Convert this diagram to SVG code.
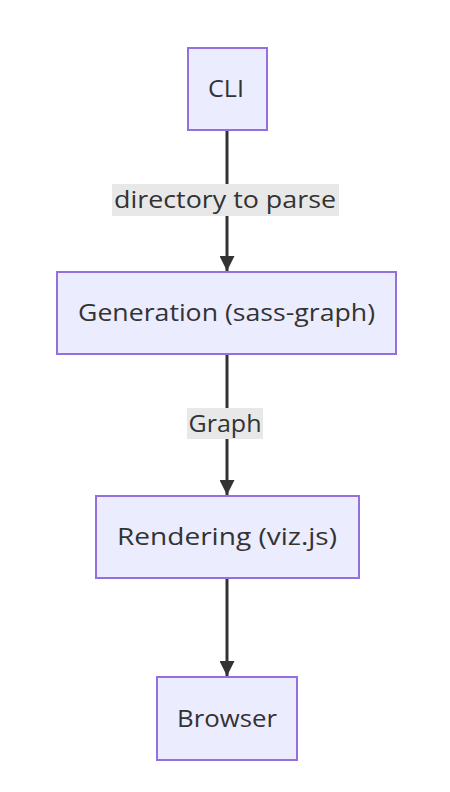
<svg xmlns="http://www.w3.org/2000/svg" width="450" height="792" viewBox="0 0 450 792">
<defs>
<style>
.node rect{fill:#ECECFF;stroke:#9370DB;stroke-width:2}
text{font-family:"Open Sans","DejaVu Sans",sans-serif;font-size:23px;fill:#333;text-anchor:middle;dominant-baseline:central}
.edge{stroke:#333;stroke-width:3;fill:none}
.lbl{fill:#e8e8e8}
</style>
<marker id="arr" viewBox="0 0 10 10" refX="10" refY="5" markerUnits="userSpaceOnUse" markerWidth="18" markerHeight="15" orient="auto">
<path d="M0,0 L10,5 L0,10 z" fill="#333"/>
</marker>
</defs>
<rect width="450" height="792" fill="#fff"/>
<g id="edges">
<path class="edge" d="M227,130 L227,271" marker-end="url(#arr)"/>
<path class="edge" d="M227,354 L227,495" marker-end="url(#arr)"/>
<path class="edge" d="M227,578 L227,676" marker-end="url(#arr)"/>
<rect class="lbl" x="112" y="184" width="227" height="32"/>
<text x="225" y="199" textLength="222" lengthAdjust="spacingAndGlyphs">directory to parse</text>
<rect class="lbl" x="187" y="408" width="76" height="31"/>
<text x="225" y="422.5" textLength="73" lengthAdjust="spacingAndGlyphs">Graph</text>
</g>
<g id="cli" class="node"><rect x="188" y="48" width="79" height="82"/><text x="226" y="88" textLength="36" lengthAdjust="spacingAndGlyphs">CLI</text></g>
<g id="generation" class="node"><rect x="57" y="272" width="339" height="82"/><text x="226.5" y="312" textLength="297" lengthAdjust="spacingAndGlyphs">Generation (sass-graph)</text></g>
<g id="rendering" class="node"><rect x="96" y="496" width="263" height="82"/><text x="227" y="536" textLength="220" lengthAdjust="spacingAndGlyphs">Rendering (viz.js)</text></g>
<g id="browser" class="node"><rect x="157" y="677" width="140" height="83"/><text x="227" y="717.5" textLength="100" lengthAdjust="spacingAndGlyphs">Browser</text></g>
</svg>
